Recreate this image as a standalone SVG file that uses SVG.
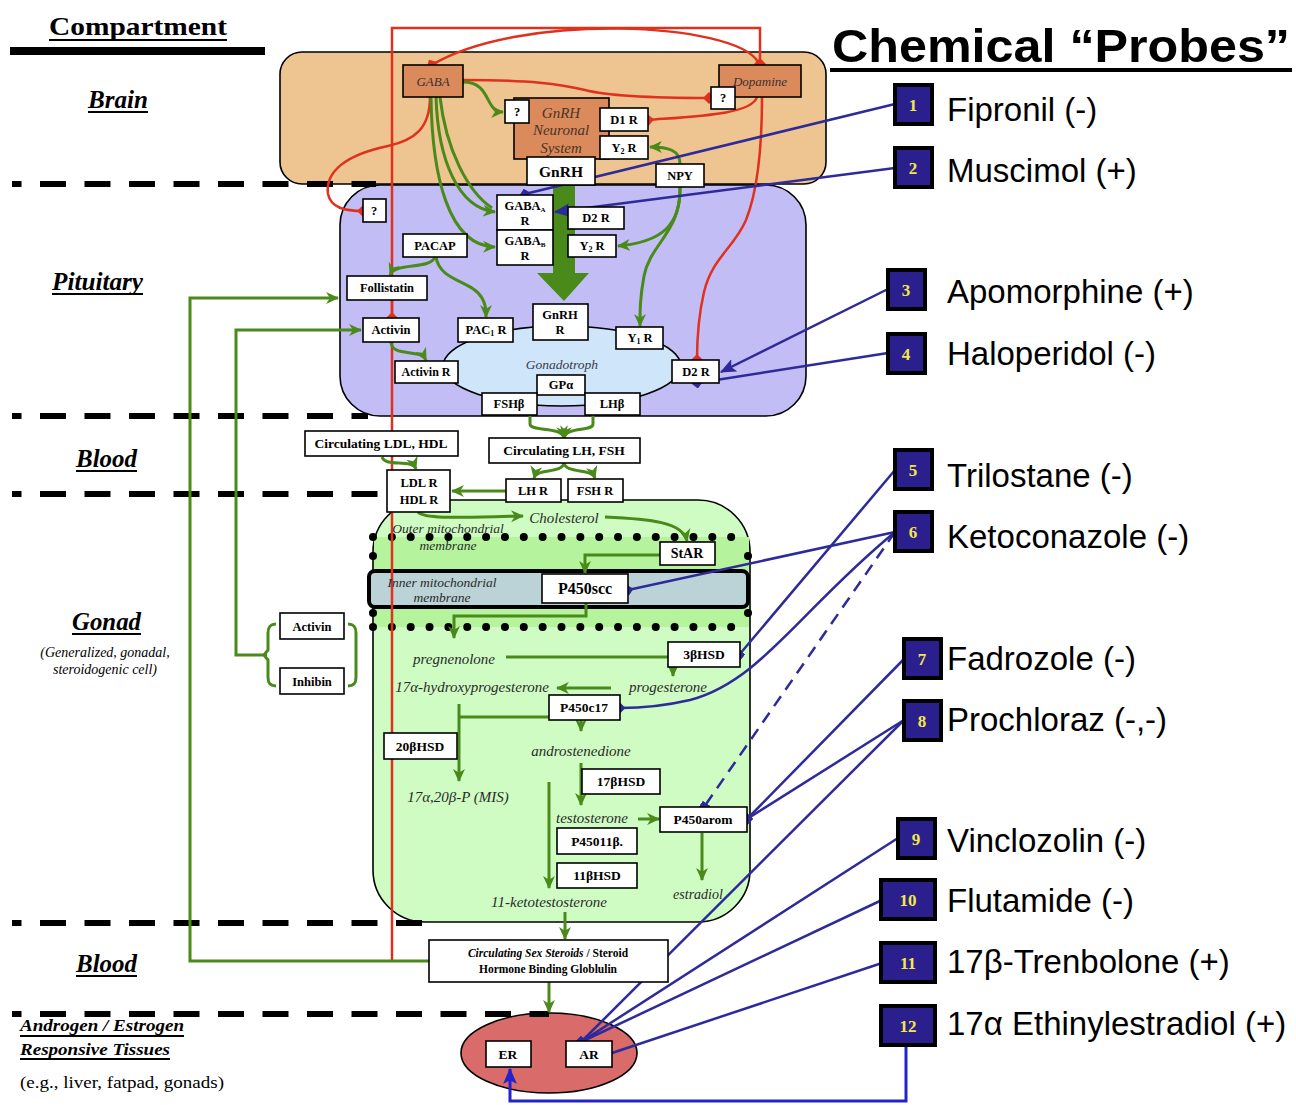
<svg xmlns="http://www.w3.org/2000/svg" width="1296" height="1105" viewBox="0 0 1296 1105">
<defs>
<style>
.nb{fill:#fff;stroke:#000;stroke-width:1.6}
.sb{fill:#DB8A5C;stroke:#000;stroke-width:1.6}
.nt{font-family:"Liberation Serif",serif;font-weight:bold;font-size:12.5px;text-anchor:middle;fill:#000}
.it{font-family:"Liberation Serif",serif;font-style:italic;font-size:15px;text-anchor:middle;fill:#2a2a2a}
.g{stroke:#4A8A1A;stroke-width:3;fill:none;marker-end:url(#ga)}
.gl{stroke:#4A8A1A;stroke-width:3;fill:none}
.r{stroke:#E0301E;stroke-width:2.5;fill:none}
.b{stroke:#2E2A99;stroke-width:2.5;fill:none}
.k{stroke:#000;stroke-width:3.5;marker-end:url(#ka)}
.pb{fill:#2A1F8C;stroke:#000;stroke-width:4}
.pn{font-family:"Liberation Serif",serif;font-weight:bold;font-size:17px;fill:#F3E84A;text-anchor:middle}
.pt{font-family:"Liberation Sans",Arial,sans-serif;font-size:33px;fill:#000}
.lab{font-family:"Liberation Serif",serif;font-weight:bold;font-style:italic;font-size:25px;fill:#000}
.dash{stroke:#000;stroke-width:6;stroke-dasharray:26 18.5;stroke-dashoffset:16.5}
.ul{stroke:#000;stroke-width:2}
.dots{stroke:#000;stroke-width:8;stroke-linecap:round;stroke-dasharray:0 18.85}
</style>
<marker id="ga" markerUnits="userSpaceOnUse" viewBox="0 0 12 12" markerWidth="13" markerHeight="13" refX="11" refY="6" orient="auto"><path d="M0,0.5 L12,6 L0,11.5 L3.5,6 z" fill="#4A8A1A"/></marker>
<marker id="ka" markerUnits="userSpaceOnUse" viewBox="0 0 14 12" markerWidth="16" markerHeight="14" refX="13" refY="6" orient="auto"><path d="M0,0 L14,6 L0,12 L3,6 z" fill="#000"/></marker>
<marker id="rd" markerUnits="userSpaceOnUse" viewBox="0 0 12 12" markerWidth="12" markerHeight="12" refX="6" refY="6" orient="auto"><path d="M0,6 L6,0 L12,6 L6,12 z" fill="#E0301E"/></marker>
<marker id="bd" markerUnits="userSpaceOnUse" viewBox="0 0 12 12" markerWidth="11" markerHeight="11" refX="6" refY="6" orient="auto"><path d="M0,6 L6,0 L12,6 L6,12 z" fill="#2E2A99"/></marker>
<marker id="bs" markerUnits="userSpaceOnUse" viewBox="0 0 10 10" markerWidth="9" markerHeight="9" refX="5" refY="5" orient="auto"><rect x="0" y="0" width="10" height="10" fill="#2E2A99"/></marker>
<marker id="ba" markerUnits="userSpaceOnUse" viewBox="0 0 14 12" markerWidth="16" markerHeight="14" refX="13" refY="6" orient="auto"><path d="M0,0 L14,6 L0,12 L3,6 z" fill="#2E2A99"/></marker>
<marker id="bb" markerUnits="userSpaceOnUse" viewBox="0 0 14 12" markerWidth="16" markerHeight="14" refX="13" refY="6" orient="auto"><path d="M0,0 L14,6 L0,12 L3,6 z" fill="#2323CC"/></marker>
</defs>
<rect width="1296" height="1105" fill="#fff"/>

<g id="compartments">
<rect x="280" y="52" width="546" height="132" rx="22" fill="#EEC490" stroke="#000" stroke-width="1.6"/>
<rect x="340" y="185" width="466" height="231" rx="40" fill="#C3BDF6" stroke="#000" stroke-width="1.6"/>
<rect x="373" y="500" width="377" height="422" rx="52" fill="#CEFCC2" stroke="#000" stroke-width="1.6"/>
<rect x="374" y="537" width="375" height="90" fill="#B5F49C"/>
<rect x="369" y="571" width="379" height="36" rx="6" fill="#BBD2D6" stroke="#000" stroke-width="4"/>
<line class="dots" x1="373" y1="537" x2="750" y2="537"/>
<line class="dots" x1="373" y1="627" x2="750" y2="627"/>
<circle cx="373" cy="556" r="4"/><circle cx="373" cy="613" r="4"/>
<circle cx="748" cy="556" r="4"/><circle cx="748" cy="613" r="4"/>
<ellipse cx="549" cy="1053" rx="88" ry="40" fill="#D96B6B" stroke="#000" stroke-width="1.6"/>
</g>

<g id="dividers">
<line class="dash" x1="12" y1="184" x2="376" y2="184"/>
<line class="dash" x1="12" y1="416" x2="368" y2="416"/>
<line class="dash" x1="12" y1="494" x2="386" y2="494"/>
<line class="dash" x1="12" y1="923" x2="431" y2="923"/>
<line class="dash" x1="12" y1="1014" x2="549" y2="1014"/>
</g>

<g id="headings">
<text x="49" y="35" font-family="Liberation Serif, serif" font-weight="bold" font-size="26" textLength="178" lengthAdjust="spacingAndGlyphs">Compartment</text>
<line class="ul" x1="49" y1="40" x2="227" y2="40"/>
<rect x="10" y="47" width="255" height="8" fill="#000"/>
<text x="832" y="62" font-family="Liberation Sans, Arial, sans-serif" font-weight="bold" font-size="47" textLength="458" lengthAdjust="spacingAndGlyphs">Chemical “Probes”</text>
<rect x="830" y="68" width="462" height="4" fill="#000"/>
<text class="lab" x="88" y="108" textLength="60" lengthAdjust="spacingAndGlyphs">Brain</text>
<line class="ul" x1="88" y1="112" x2="148" y2="112"/>
<text class="lab" x="52" y="290" textLength="91" lengthAdjust="spacingAndGlyphs">Pituitary</text>
<line class="ul" x1="52" y1="294" x2="143" y2="294"/>
<text class="lab" x="76" y="467" textLength="61" lengthAdjust="spacingAndGlyphs">Blood</text>
<line class="ul" x1="76" y1="471" x2="137" y2="471"/>
<text class="lab" x="72" y="630" textLength="69" lengthAdjust="spacingAndGlyphs">Gonad</text>
<line class="ul" x1="72" y1="634" x2="141" y2="634"/>
<text x="105" y="657" font-family="Liberation Serif, serif" font-style="italic" font-size="14" text-anchor="middle">(Generalized, gonadal,</text>
<text x="105" y="674" font-family="Liberation Serif, serif" font-style="italic" font-size="14" text-anchor="middle">steroidogenic cell)</text>
<text class="lab" x="76" y="972" textLength="61" lengthAdjust="spacingAndGlyphs">Blood</text>
<line class="ul" x1="76" y1="976" x2="137" y2="976"/>
<text class="lab" x="20" y="1031" style="font-size:17px" textLength="164" lengthAdjust="spacingAndGlyphs">Androgen / Estrogen</text>
<line class="ul" x1="20" y1="1036" x2="184" y2="1036"/>
<text class="lab" x="20" y="1055" style="font-size:17px" textLength="150" lengthAdjust="spacingAndGlyphs">Responsive Tissues</text>
<line class="ul" x1="20" y1="1059" x2="170" y2="1059"/>
<text x="20" y="1088" font-family="Liberation Serif, serif" font-size="17" textLength="204" lengthAdjust="spacingAndGlyphs">(e.g., liver, fatpad, gonads)</text>
</g>

<g id="connectors">
<path class="r" d="M392 961 V28 H760 V64" marker-end="url(#rd)"/>
<path class="r" d="M758 62 C735 22, 520 12, 432 65" marker-end="url(#rd)"/>
<path class="r" d="M463 80 C530 80, 560 84, 585 90 C612 97, 660 98, 709 98" marker-end="url(#rd)"/>
<path class="r" d="M757 97 C752 114, 700 116, 648 120" marker-end="url(#rd)"/>
<path class="r" d="M762 97 C762 150, 758 190, 746 220 C734 248, 712 258, 704 292 C698 318, 697 340, 697 360" marker-end="url(#rd)"/>
<path class="r" d="M430 97 C430 128, 415 140, 388 146 C345 155, 325 172, 328 194 C331 208, 345 211, 363 211" marker-end="url(#rd)"/>
<path class="r" d="M392 300 V318" marker-end="url(#rd)"/>
<path class="g" d="M463 82 C492 82, 484 112, 503 112"/>
<path class="gl" d="M440 97 C446 150, 468 192, 492 208"/>
<path class="g" d="M436 97 C438 160, 458 208, 495 212"/>
<path class="g" d="M431 97 C432 175, 448 246, 495 247"/>
<path class="g" d="M680 164 C680 150, 668 147, 650 147"/>
<path class="g" d="M680 187 C681 225, 662 242, 618 246"/>
<path class="g" d="M680 187 C681 232, 650 244, 644 276 C640 298, 640 310, 640 326"/>
<path class="g" d="M435 257 C430 270, 395 262, 390 275"/>
<path class="g" d="M436 257 C440 282, 472 280, 482 298 C486 305, 486 310, 486 317"/>
<path class="g" d="M429 961 H190 V298 H338"/>
<path class="g" d="M267 655 H236 V330 H361"/>
<path class="g" d="M391 342 C392 358, 420 348, 426 360"/>
<path class="g" d="M530 415 V424 C530 432, 562 426, 564 438"/>
<path class="g" d="M593 415 V424 C593 432, 566 426, 564 438"/>
<path class="g" d="M564 463 C562 474, 536 468, 534 478"/>
<path class="g" d="M564 463 C566 474, 592 468, 595 478"/>
<path class="g" d="M506 491 H452"/>
<path class="g" d="M382 457 C386 468, 412 458, 416 469"/>
<path class="g" d="M418 512 C425 520, 470 517, 523 516"/>
<path class="g" d="M605 517 C650 519, 683 522, 687 541"/>
<path class="g" d="M660 555 H585 V573"/>
<path class="g" d="M586 603 V616 H454 V638"/>
<path class="g" d="M506 657 H673 V676"/>
<path class="g" d="M611 688 H557"/>
<path class="g" d="M459 704 V781"/>
<path class="g" d="M459 717 H581 V731"/>
<path class="g" d="M581 763 V805"/>
<path class="g" d="M638 819 H659"/>
<path class="g" d="M702 833 V880"/>
<path class="g" d="M549 782 V888"/>
<path class="g" d="M565 912 V939"/>
<path class="g" d="M549 982 V1012"/>
<path d="M553 186 H575 V273 H589 L564 301 L537 273 H553 Z" fill="#4A8A1A"/>
<line class="k" x1="500" y1="347" x2="528" y2="372"/>
<line class="k" x1="559" y1="341" x2="559" y2="360"/>
<line class="k" x1="641" y1="351" x2="612" y2="374"/>
<line class="k" x1="461" y1="370" x2="503" y2="381"/>
<line class="k" x1="668" y1="374" x2="624" y2="382"/>
<path class="b" d="M895 104 L525 194" marker-end="url(#bd)"/>
<path class="b" d="M895 168 L555 212" marker-end="url(#ba)"/>
<path class="b" d="M888 289 L721 372" marker-end="url(#ba)"/>
<path class="b" d="M888 353 L697 383" marker-end="url(#bd)"/>
<path class="b" d="M895 470 L739 655" marker-end="url(#bs)"/>
<path class="b" d="M895 532 L628 590" marker-end="url(#bd)"/>
<path class="b" d="M895 532 C800 610, 760 682, 690 700 C660 707, 640 708, 620 708" marker-end="url(#bd)"/>
<path class="b" d="M895 532 L704 807" stroke-dasharray="12 8" marker-end="url(#bs)"/>
<path class="b" d="M904 659 L747 819" marker-end="url(#bs)"/>
<path class="b" d="M904 720 L747 819"/>
<path class="b" d="M904 720 L581 1042" marker-end="url(#bs)"/>
<path class="b" d="M898 838 L581 1042"/>
<path class="b" d="M882 900 L581 1042"/>
<path class="b" d="M882 963 L606 1055" marker-end="url(#bd)"/>
<path d="M906 1046 V1101 H510 V1069" stroke="#2323CC" stroke-width="3" fill="none" marker-end="url(#bb)"/>
</g>

<g id="brain-nodes">
<g id="n-gaba"><rect class="sb" x="403" y="65" width="60" height="32"/><text class="it" x="433" y="86" style="font-size:13px;fill:#3a3030">GABA</text></g>
<g id="n-dopamine"><rect class="sb" x="719" y="65" width="82" height="32"/><text class="it" x="760" y="86" style="font-size:13px;fill:#3a3030">Dopamine</text></g>
<g id="n-q1"><rect class="nb" x="711" y="87" width="24" height="22"/><text class="nt" x="723" y="102">?</text></g>
<g id="n-gnrhns"><rect class="sb" x="514" y="98" width="95" height="61"/><text class="it" x="561" y="118" style="fill:#4a3426">GnRH</text><text class="it" x="561" y="135" style="fill:#4a3426">Neuronal</text><text class="it" x="561" y="153" style="fill:#4a3426">System</text></g>
<g id="n-q2"><rect class="nb" x="505" y="100" width="24" height="23"/><text class="nt" x="517" y="116">?</text></g>
<g id="n-d1r"><rect class="nb" x="600" y="108" width="48" height="23"/><text class="nt" x="624" y="124">D1 R</text></g>
<g id="n-y2r-b"><rect class="nb" x="600" y="136" width="48" height="23"/><text class="nt" x="624" y="152">Y<tspan font-size="8" dy="2">2</tspan><tspan dy="-2"> R</tspan></text></g>
<g id="n-gnrh"><rect class="nb" x="527" y="157" width="68" height="28"/><text class="nt" x="561" y="177" style="font-size:15.5px">GnRH</text></g>
<g id="n-npy"><rect class="nb" x="656" y="164" width="48" height="23"/><text class="nt" x="680" y="180">NPY</text></g>
</g>

<g id="pituitary-nodes">
<g id="n-gonadotroph"><ellipse cx="562" cy="366" rx="119" ry="40" fill="#CFE5FA" stroke="#000" stroke-width="1.6"/><text class="it" x="562" y="369" style="font-size:13.5px;fill:#3a3a4a">Gonadotroph</text></g>
<g id="n-q3"><rect class="nb" x="363" y="199" width="23" height="23"/><text class="nt" x="374" y="215">?</text></g>
<g id="n-gabaar"><rect class="nb" x="497" y="195" width="56" height="35"/><text class="nt" x="525" y="210">GABA<tspan font-size="7" dy="2">A</tspan></text><text class="nt" x="525" y="225">R</text></g>
<g id="n-gababr"><rect class="nb" x="497" y="230" width="56" height="35"/><text class="nt" x="525" y="245">GABA<tspan font-size="7" dy="2">B</tspan></text><text class="nt" x="525" y="260">R</text></g>
<g id="n-d2r-a"><rect class="nb" x="568" y="207" width="56" height="22"/><text class="nt" x="596" y="222">D2 R</text></g>
<g id="n-y2r-p"><rect class="nb" x="568" y="235" width="48" height="22"/><text class="nt" x="592" y="250">Y<tspan font-size="8" dy="2">2</tspan><tspan dy="-2"> R</tspan></text></g>
<g id="n-pacap"><rect class="nb" x="403" y="234" width="64" height="23"/><text class="nt" x="435" y="250">PACAP</text></g>
<g id="n-follistatin"><rect class="nb" x="347" y="276" width="80" height="24"/><text class="nt" x="387" y="292">Follistatin</text></g>
<g id="n-activin-p"><rect class="nb" x="363" y="318" width="56" height="24"/><text class="nt" x="391" y="334">Activin</text></g>
<g id="n-pac1r"><rect class="nb" x="458" y="318" width="55" height="24"/><text class="nt" x="486" y="334">PAC<tspan font-size="8" dy="2">1</tspan><tspan dy="-2"> R</tspan></text></g>
<g id="n-gnrhr"><rect class="nb" x="533" y="304" width="55" height="36"/><text class="nt" x="560" y="319">GnRH</text><text class="nt" x="560" y="334">R</text></g>
<g id="n-y1r"><rect class="nb" x="616" y="327" width="47" height="22"/><text class="nt" x="640" y="342">Y<tspan font-size="8" dy="2">1</tspan><tspan dy="-2"> R</tspan></text></g>
<g id="n-activinr"><rect class="nb" x="395" y="361" width="63" height="22"/><text class="nt" x="426" y="376" style="font-size:12px">Activin R</text></g>
<g id="n-d2r-b"><rect class="nb" x="672" y="360" width="47" height="23"/><text class="nt" x="696" y="376">D2 R</text></g>
<g id="n-gpa"><rect class="nb" x="537" y="375" width="48" height="20"/><text class="nt" x="561" y="389">GPα</text></g>
<g id="n-fshb"><rect class="nb" x="482" y="393" width="55" height="22"/><text class="nt" x="509" y="408">FSHβ</text></g>
<g id="n-lhb"><rect class="nb" x="585" y="393" width="55" height="22"/><text class="nt" x="612" y="408">LHβ</text></g>
</g>

<g id="blood-nodes">
<g id="n-circldl"><rect class="nb" x="305" y="431" width="153" height="25"/><text class="nt" x="381" y="448" style="font-size:13.5px">Circulating LDL, HDL</text></g>
<g id="n-circlh"><rect class="nb" x="489" y="438" width="151" height="25"/><text class="nt" x="564" y="455" style="font-size:13.5px">Circulating LH, FSH</text></g>
<g id="n-ldlr"><rect class="nb" x="387" y="470" width="63" height="42"/><text class="nt" x="419" y="487">LDL R</text><text class="nt" x="419" y="504">HDL  R</text></g>
<g id="n-lhr"><rect class="nb" x="506" y="479" width="55" height="23"/><text class="nt" x="533" y="495">LH R</text></g>
<g id="n-fshr"><rect class="nb" x="568" y="479" width="55" height="23"/><text class="nt" x="595" y="495">FSH R</text></g>
<g id="n-circsex"><rect class="nb" x="429" y="940" width="239" height="42"/><text class="nt" x="548" y="957" style="font-size:11.5px"><tspan font-style="italic">Circulating Sex Steroids</tspan> / Steroid</text><text class="nt" x="548" y="973" style="font-size:11.5px">Hormone Binding Globlulin</text></g>
</g>

<g id="gonad-nodes">
<text class="it" x="448" y="533" style="font-size:13.5px">Outer mitochondrial</text>
<text class="it" x="448" y="550" style="font-size:13.5px">membrane</text>
<text class="it" x="442" y="587" style="font-size:13.5px">Inner mitochondrial</text>
<text class="it" x="442" y="602" style="font-size:13.5px">membrane</text>
<text class="it" x="564" y="523">Cholesterol</text>
<g id="n-star"><rect class="nb" x="660" y="542" width="55" height="23"/><text class="nt" x="687" y="558" style="font-size:14px">StAR</text></g>
<g id="n-p450scc"><rect class="nb" x="542" y="574" width="86" height="29"/><text class="nt" x="585" y="594" style="font-size:16px">P450scc</text></g>
<text class="it" x="454" y="664">pregnenolone</text>
<g id="n-3bhsd"><rect class="nb" x="668" y="642" width="72" height="25"/><text class="nt" x="704" y="659" style="font-size:13.5px">3βHSD</text></g>
<text class="it" x="472" y="692">17α-hydroxyprogesterone</text>
<text class="it" x="668" y="692">progesterone</text>
<g id="n-p450c17"><rect class="nb" x="549" y="695" width="71" height="25"/><text class="nt" x="584" y="712" style="font-size:13.5px">P450c17</text></g>
<g id="n-20bhsd"><rect class="nb" x="384" y="733" width="73" height="26"/><text class="nt" x="420" y="751" style="font-size:13.5px">20βHSD</text></g>
<text class="it" x="581" y="756">androstenedione</text>
<g id="n-17bhsd"><rect class="nb" x="582" y="769" width="78" height="25"/><text class="nt" x="621" y="786" style="font-size:13.5px">17βHSD</text></g>
<text class="it" x="458" y="802">17α,20β-P (MIS)</text>
<text class="it" x="592" y="823">testosterone</text>
<g id="n-p450arom"><rect class="nb" x="660" y="807" width="87" height="25"/><text class="nt" x="703" y="824" style="font-size:13.5px">P450arom</text></g>
<g id="n-p45011b"><rect class="nb" x="557" y="828" width="80" height="26"/><text class="nt" x="597" y="846" style="font-size:13.5px">P45011β.</text></g>
<g id="n-11bhsd"><rect class="nb" x="557" y="863" width="80" height="25"/><text class="nt" x="597" y="880" style="font-size:13.5px">11βHSD</text></g>
<text class="it" x="549" y="907">11-ketotestosterone</text>
<text class="it" x="698" y="899" style="font-size:14px">estradiol</text>
<g id="n-activin-g"><rect class="nb" x="280" y="613" width="64" height="26"/><text class="nt" x="312" y="631">Activin</text></g>
<g id="n-inhibin"><rect class="nb" x="280" y="668" width="64" height="26"/><text class="nt" x="312" y="686">Inhibin</text></g>
<path class="gl" d="M276 624 C270 624, 268 627, 268 633 V650 L264 655 L268 660 V677 C268 683, 270 686, 276 686"/>
<path class="gl" d="M348 624 C354 624, 356 627, 356 633 V677 C356 683, 354 686, 348 686"/>
</g>

<g id="tissue-nodes">
<g id="n-er"><rect class="nb" x="486" y="1041" width="45" height="26"/><text class="nt" x="508" y="1059" style="font-size:13.5px">ER</text></g>
<g id="n-ar"><rect class="nb" x="566" y="1041" width="46" height="26"/><text class="nt" x="589" y="1059" style="font-size:13.5px">AR</text></g>
</g>

<g id="probes">
<g id="p1"><rect class="pb" x="895" y="85" width="37" height="39"/><text class="pn" x="913" y="111">1</text><text class="pt" x="947" y="121">Fipronil (-)</text></g>
<g id="p2"><rect class="pb" x="895" y="148" width="37" height="39"/><text class="pn" x="913" y="174">2</text><text class="pt" x="947" y="182">Muscimol (+)</text></g>
<g id="p3"><rect class="pb" x="888" y="270" width="37" height="39"/><text class="pn" x="906" y="296">3</text><text class="pt" x="947" y="303">Apomorphine (+)</text></g>
<g id="p4"><rect class="pb" x="888" y="334" width="37" height="39"/><text class="pn" x="906" y="360">4</text><text class="pt" x="947" y="365">Haloperidol (-)</text></g>
<g id="p5"><rect class="pb" x="895" y="450" width="37" height="39"/><text class="pn" x="913" y="476">5</text><text class="pt" x="947" y="487">Trilostane (-)</text></g>
<g id="p6"><rect class="pb" x="895" y="512" width="37" height="39"/><text class="pn" x="913" y="538">6</text><text class="pt" x="947" y="548">Ketoconazole (-)</text></g>
<g id="p7"><rect class="pb" x="904" y="639" width="37" height="39"/><text class="pn" x="922" y="665">7</text><text class="pt" x="947" y="670">Fadrozole (-)</text></g>
<g id="p8"><rect class="pb" x="904" y="701" width="37" height="39"/><text class="pn" x="922" y="727">8</text><text class="pt" x="947" y="731">Prochloraz (-,-)</text></g>
<g id="p9"><rect class="pb" x="898" y="819" width="37" height="39"/><text class="pn" x="916" y="845">9</text><text class="pt" x="947" y="852">Vinclozolin (-)</text></g>
<g id="p10"><rect class="pb" x="881" y="880" width="54" height="39"/><text class="pn" x="908" y="906">10</text><text class="pt" x="947" y="912">Flutamide (-)</text></g>
<g id="p11"><rect class="pb" x="881" y="943" width="54" height="39"/><text class="pn" x="908" y="969">11</text><text class="pt" x="947" y="973">17β-Trenbolone (+)</text></g>
<g id="p12"><rect class="pb" x="881" y="1006" width="54" height="39"/><text class="pn" x="908" y="1032">12</text><text class="pt" x="947" y="1035">17α Ethinylestradiol (+)</text></g>
</g>
</svg>
